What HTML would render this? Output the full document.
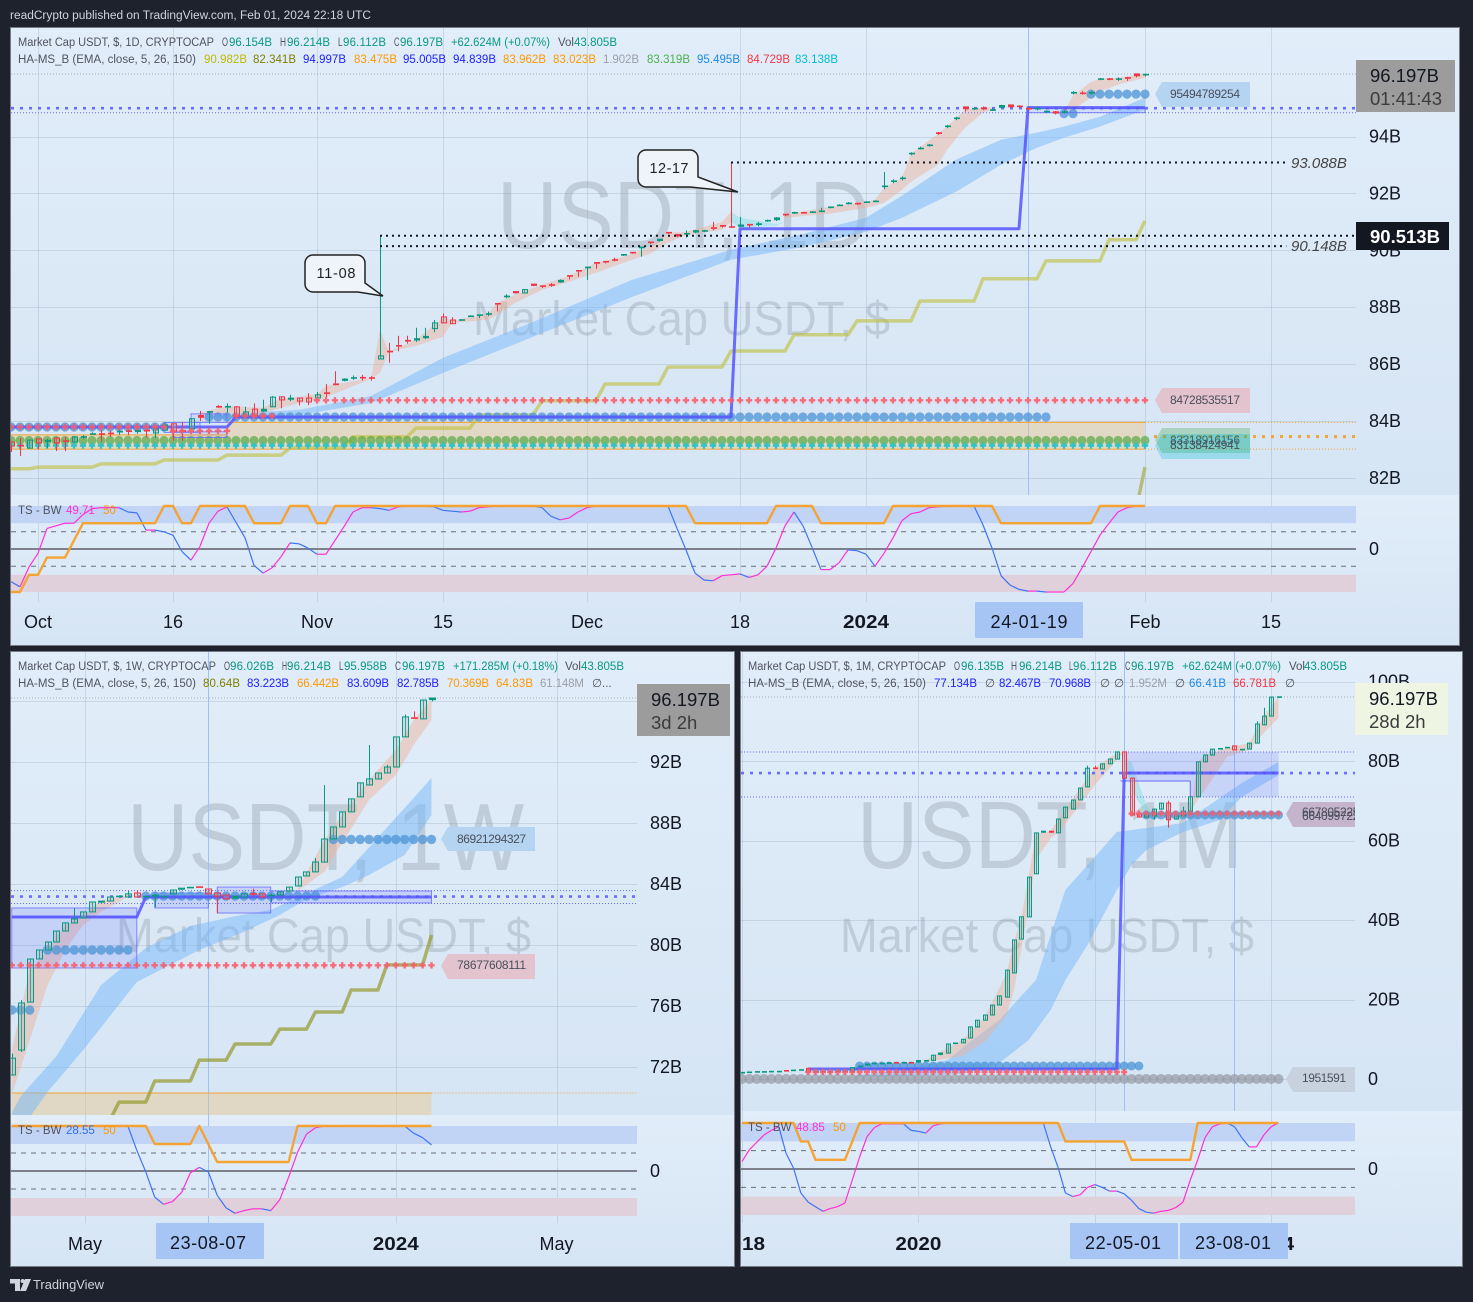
<!DOCTYPE html>
<html lang="en">
<head>
<meta charset="utf-8">
<title>USDT Market Cap multi-timeframe chart</title>
<style>
html,body{margin:0;padding:0;background:#1e222d;}
svg{display:block;font-family:"Liberation Sans",sans-serif;}
.lg{font-size:11.5px;}
.ax{font-size:18px;fill:#131722;}
.pill{font-size:12px;fill:#4a4f5a;}
</style>
</head>
<body>
<svg id="chart-root" xmlns="http://www.w3.org/2000/svg" width="1473" height="1302" viewBox="0 0 1473 1302">
<defs>
<linearGradient id="g-pane" x1="0" y1="0" x2="0" y2="1"><stop offset="0" stop-color="#e1edf9"/><stop offset="1" stop-color="#d6e5f4"/></linearGradient>
<clipPath id="clip-daily"><rect x="11" y="28" width="1345" height="467"/></clipPath>
<clipPath id="clip-daily-ts"><rect x="11" y="495" width="1345" height="107"/></clipPath>
<clipPath id="clip-weekly"><rect x="11" y="652" width="626" height="463"/></clipPath>
<clipPath id="clip-weekly-ts"><rect x="11" y="1115" width="626" height="108"/></clipPath>
<clipPath id="clip-weekly-axis"><rect x="11" y="1223" width="723" height="43"/></clipPath>
<clipPath id="clip-monthly"><rect x="741" y="652" width="614" height="459"/></clipPath>
<clipPath id="clip-monthly-ts"><rect x="741" y="1111" width="614" height="112"/></clipPath>
<clipPath id="clip-monthly-axis"><rect x="741" y="1223" width="721" height="43"/></clipPath>
<clipPath id="clip-monthly-pill"><rect x="1286" y="800" width="69" height="30"/></clipPath>
</defs>

<rect width="1473" height="1302" fill="#1e222d"/>
<text class="lg" x="10" y="19" fill="#d1d4dc" textLength="361" lengthAdjust="spacingAndGlyphs">readCrypto published on TradingView.com, Feb 01, 2024 22:18 UTC</text>

<g>
<rect x="11" y="28" width="1448" height="467" fill="url(#g-pane)"/>
<rect x="11" y="495" width="1448" height="150" fill="url(#g-pane)"/>
<rect x="10.5" y="27.5" width="1449" height="618" fill="none" stroke="#787b86"/>
</g>
<g>
<rect x="11" y="652" width="724" height="463" fill="url(#g-pane)"/>
<rect x="11" y="1115" width="724" height="151" fill="url(#g-pane)"/>
<rect x="10.5" y="651.5" width="724" height="615" fill="none" stroke="#787b86"/>
</g>
<g>
<rect x="741" y="652" width="721" height="459" fill="url(#g-pane)"/>
<rect x="741" y="1111" width="721" height="155" fill="url(#g-pane)"/>
<rect x="740.5" y="651.5" width="722" height="615" fill="none" stroke="#787b86"/>
</g>

<g fill="rgba(80,90,100,0.2)">
<text x="497" y="248" font-size="96" textLength="373" lengthAdjust="spacingAndGlyphs">USDT, 1D</text>
<text x="473" y="335" font-size="48" textLength="417" lengthAdjust="spacingAndGlyphs">Market Cap USDT, $</text>
<text x="127" y="870" font-size="96" textLength="397" lengthAdjust="spacingAndGlyphs">USDT, 1W</text>
<text x="116" y="952" font-size="48" textLength="415" lengthAdjust="spacingAndGlyphs">Market Cap USDT, $</text>
<text x="857" y="868" font-size="96" textLength="386" lengthAdjust="spacingAndGlyphs">USDT, 1M</text>
<text x="840" y="952" font-size="48" textLength="414" lengthAdjust="spacingAndGlyphs">Market Cap USDT, $</text>
</g>

<g id="layer-grid"></g>
<g id="layer-daily" clip-path="url(#clip-daily)"></g>
<g id="layer-daily-ts" clip-path="url(#clip-daily-ts)"></g>
<g id="layer-weekly" clip-path="url(#clip-weekly)"></g>
<g id="layer-weekly-ts" clip-path="url(#clip-weekly-ts)"></g>
<g id="layer-monthly" clip-path="url(#clip-monthly)"></g>
<g id="layer-monthly-ts" clip-path="url(#clip-monthly-ts)"></g>

<!-- Daily legend -->
<g class="lg">
<text x="18" y="46" fill="#50535e" textLength="196" lengthAdjust="spacingAndGlyphs">Market Cap USDT, $, 1D, CRYPTOCAP</text>
<text x="222" y="46" fill="#50535e" textLength="6" lengthAdjust="spacingAndGlyphs">O</text><text x="229" y="46" fill="#089981" textLength="43">96.154B</text>
<text x="280" y="46" fill="#50535e" textLength="6" lengthAdjust="spacingAndGlyphs">H</text><text x="287" y="46" fill="#089981" textLength="43">96.214B</text>
<text x="338" y="46" fill="#50535e" textLength="4.5" lengthAdjust="spacingAndGlyphs">L</text><text x="343" y="46" fill="#089981" textLength="43">96.112B</text>
<text x="394" y="46" fill="#50535e" textLength="5.5" lengthAdjust="spacingAndGlyphs">C</text><text x="400" y="46" fill="#089981" textLength="43">96.197B</text>
<text x="451" y="46" fill="#089981" textLength="99" lengthAdjust="spacingAndGlyphs">+62.624M (+0.07%)</text>
<text x="558" y="46" fill="#50535e">Vol</text><text x="574" y="46" fill="#089981" textLength="43">43.805B</text>
<text x="18" y="63" fill="#50535e" textLength="178" lengthAdjust="spacingAndGlyphs">HA-MS_B (EMA, close, 5, 26, 150)</text>
<text x="204" y="63" fill="#bcb900" textLength="43">90.982B</text>
<text x="253" y="63" fill="#808000" textLength="43">82.341B</text>
<text x="303" y="63" fill="#2020ff" textLength="43">94.997B</text>
<text x="354" y="63" fill="#ff9800" textLength="43">83.475B</text>
<text x="403" y="63" fill="#2020ff" textLength="43">95.005B</text>
<text x="453" y="63" fill="#2020ff" textLength="43">94.839B</text>
<text x="503" y="63" fill="#ff9800" textLength="43">83.962B</text>
<text x="553" y="63" fill="#ff9800" textLength="43">83.023B</text>
<text x="603" y="63" fill="#9b9ea8" textLength="36">1.902B</text>
<text x="647" y="63" fill="#4caf50" textLength="43">83.319B</text>
<text x="697" y="63" fill="#1e88e5" textLength="43">95.495B</text>
<text x="747" y="63" fill="#f23645" textLength="43">84.729B</text>
<text x="795" y="63" fill="#00bcd4" textLength="43">83.138B</text>
<text x="18" y="514" fill="#50535e">TS - BW</text>
<text x="66" y="514" fill="#ff2fd5">49.71</text><text x="103" y="514" fill="#ff9800">50</text>
</g>

<!-- Daily annotations -->
<g>
<path d="M313 255H357a8 8 0 0 1 8 8V283L383 296L358 292H313a8 8 0 0 1 -8 -8V263a8 8 0 0 1 8 -8Z" fill="#eff4fb" stroke="#222" stroke-width="1.5"/>
<text x="336" y="278" font-size="14.5" text-anchor="middle" fill="#222" textLength="39">11-08</text>
<path d="M646 150H690a8 8 0 0 1 8 8V177L738 192L690 187H646a8 8 0 0 1 -8 -8V158a8 8 0 0 1 8 -8Z" fill="#eff4fb" stroke="#222" stroke-width="1.5"/>
<text x="669" y="173" font-size="14.5" text-anchor="middle" fill="#222" textLength="39">12-17</text>
<text x="1291" y="168" font-size="15" font-style="italic" fill="#444">93.088B</text>
<text x="1291" y="251" font-size="15" font-style="italic" fill="#444">90.148B</text>
<polygon points="1155,94 1162,82 1250,82 1250,107 1162,107" fill="#b5d4f1"/>
<text class="pill" x="1170" y="98" textLength="70">95494789254</text>
<polygon points="1155,400 1162,388 1250,388 1250,413 1162,413" fill="#e3c3ce"/>
<text class="pill" x="1170" y="404" textLength="70">84728535517</text>
<polygon points="1155,440 1162,428 1250,428 1250,453 1162,453" fill="rgba(76,175,80,0.32)"/>
<text class="pill" x="1170" y="444" textLength="70">83318916156</text>
<polygon points="1155,446 1162,434 1250,434 1250,459 1162,459" fill="rgba(0,188,212,0.28)"/>
<text class="pill" x="1170" y="449" textLength="70">83138424941</text>
</g>

<!-- Weekly legend -->
<g class="lg">
<text x="18" y="670" fill="#50535e" textLength="198" lengthAdjust="spacingAndGlyphs">Market Cap USDT, $, 1W, CRYPTOCAP</text>
<text x="224" y="670" fill="#50535e" textLength="6" lengthAdjust="spacingAndGlyphs">O</text><text x="230" y="670" fill="#089981" textLength="44">96.026B</text>
<text x="282" y="670" fill="#50535e" textLength="5" lengthAdjust="spacingAndGlyphs">H</text><text x="287" y="670" fill="#089981" textLength="44">96.214B</text>
<text x="339" y="670" fill="#50535e" textLength="4.5" lengthAdjust="spacingAndGlyphs">L</text><text x="344" y="670" fill="#089981" textLength="43">95.958B</text>
<text x="395" y="670" fill="#50535e" textLength="6" lengthAdjust="spacingAndGlyphs">C</text><text x="402" y="670" fill="#089981" textLength="43">96.197B</text>
<text x="453" y="670" fill="#089981" textLength="105" lengthAdjust="spacingAndGlyphs">+171.285M (+0.18%)</text>
<text x="565" y="670" fill="#50535e">Vol</text><text x="581" y="670" fill="#089981" textLength="43">43.805B</text>
<text x="18" y="687" fill="#50535e" textLength="178" lengthAdjust="spacingAndGlyphs">HA-MS_B (EMA, close, 5, 26, 150)</text>
<text x="203" y="687" fill="#808000" textLength="37">80.64B</text>
<text x="247" y="687" fill="#2020ff" textLength="42">83.223B</text>
<text x="297" y="687" fill="#ff9800" textLength="42">66.442B</text>
<text x="347" y="687" fill="#2020ff" textLength="42">83.609B</text>
<text x="397" y="687" fill="#2020ff" textLength="42">82.785B</text>
<text x="447" y="687" fill="#ff9800" textLength="42">70.369B</text>
<text x="496" y="687" fill="#ff9800" textLength="37">64.83B</text>
<text x="540" y="687" fill="#9b9ea8" textLength="44">61.148M</text>
<text x="592" y="687" fill="#50535e">∅...</text>
<text x="18" y="1134" fill="#50535e">TS - BW</text>
<text x="66" y="1134" fill="#2f6ff0">28.55</text><text x="103" y="1134" fill="#ff9800">50</text>
</g>

<g>
<polygon points="441,839 448,827 535,827 535,851 448,851" fill="#b5d4f1"/>
<text class="pill" x="457" y="843" textLength="69">86921294327</text>
<polygon points="441,966 448,954 535,954 535,979 448,979" fill="#e3c3ce"/>
<text class="pill" x="457" y="969" textLength="69">78677608111</text>
</g>

<!-- Monthly legend -->
<g class="lg">
<text x="748" y="670" fill="#50535e" textLength="198" lengthAdjust="spacingAndGlyphs">Market Cap USDT, $, 1M, CRYPTOCAP</text>
<text x="954" y="670" fill="#50535e" textLength="6" lengthAdjust="spacingAndGlyphs">O</text><text x="961" y="670" fill="#089981" textLength="43">96.135B</text>
<text x="1011" y="670" fill="#50535e" textLength="6" lengthAdjust="spacingAndGlyphs">H</text><text x="1019" y="670" fill="#089981" textLength="43">96.214B</text>
<text x="1069" y="670" fill="#50535e" textLength="4" lengthAdjust="spacingAndGlyphs">L</text><text x="1073" y="670" fill="#089981" textLength="44">96.112B</text>
<text x="1125" y="670" fill="#50535e" textLength="5.5" lengthAdjust="spacingAndGlyphs">C</text><text x="1131" y="670" fill="#089981" textLength="43">96.197B</text>
<text x="1182" y="670" fill="#089981" textLength="99" lengthAdjust="spacingAndGlyphs">+62.624M (+0.07%)</text>
<text x="1289" y="670" fill="#50535e">Vol</text><text x="1304" y="670" fill="#089981" textLength="43">43.805B</text>
<text x="748" y="687" fill="#50535e" textLength="178" lengthAdjust="spacingAndGlyphs">HA-MS_B (EMA, close, 5, 26, 150)</text>
<text x="934" y="687" fill="#2020ff" textLength="43">77.134B</text>
<text x="985" y="687" fill="#50535e">∅</text>
<text x="999" y="687" fill="#2020ff" textLength="42">82.467B</text>
<text x="1049" y="687" fill="#2020ff" textLength="42">70.968B</text>
<text x="1100" y="687" fill="#50535e">∅</text><text x="1114" y="687" fill="#50535e">∅</text>
<text x="1129" y="687" fill="#9b9ea8" textLength="38">1.952M</text>
<text x="1175" y="687" fill="#50535e">∅</text>
<text x="1189" y="687" fill="#1e88e5" textLength="37">66.41B</text>
<text x="1233" y="687" fill="#f23645" textLength="43">66.781B</text>
<text x="1285" y="687" fill="#50535e">∅</text>
<text x="748" y="1131" fill="#50535e">TS - BW</text>
<text x="796" y="1131" fill="#ff2fd5">48.85</text><text x="833" y="1131" fill="#ff9800">50</text>
</g>

<g>
<polygon points="1286,814 1293,802 1355,802 1355,827 1293,827" fill="#c4b4cc"/>
<g clip-path="url(#clip-monthly-pill)">
<text class="pill" x="1302" y="816" textLength="70">66780522551</text>
<text class="pill" x="1302" y="820" textLength="70">66409972240</text>
</g>
<polygon points="1286,1079 1293,1067 1355,1067 1355,1092 1293,1092" fill="#c7d2de"/>
<text class="pill" x="1302" y="1082" textLength="44">1951591</text>
</g>

<g id="layer-tags-under"></g>

<!-- Price tags -->
<g>
<rect x="1356" y="60" width="99" height="52" fill="#9c9c9c"/>
<text x="1370" y="82" font-size="18.5" fill="#131722">96.197B</text>
<text x="1370" y="105" font-size="18.5" fill="#3b3b3b">01:41:43</text>
<rect x="1356" y="222" width="93" height="28" fill="#131722"/>
<text x="1370" y="243" font-size="18.5" font-weight="bold" fill="#ffffff">90.513B</text>
<rect x="637" y="684" width="93" height="52" fill="#9c9c9c"/>
<text x="651" y="706" font-size="18.5" fill="#131722">96.197B</text>
<text x="651" y="729" font-size="18.5" fill="#3b3b3b">3d 2h</text>
<rect x="1355" y="683" width="93" height="52" fill="#eff5e3"/>
<text x="1369" y="705" font-size="18.5" fill="#131722">96.197B</text>
<text x="1369" y="728" font-size="18.5" fill="#3b3b3b">28d 2h</text>
</g>

<!-- Date tags -->
<g>
<rect x="975" y="602" width="108" height="36" rx="1" fill="#a6c4f4"/>
<text x="1029" y="628" font-size="18" text-anchor="middle" fill="#131722" textLength="77">24-01-19</text>
<rect x="156" y="1223" width="108" height="36" rx="1" fill="#a6c4f4"/>
<text x="208" y="1249" font-size="18" text-anchor="middle" fill="#131722" textLength="76">23-08-07</text>
<rect x="1070" y="1223" width="108" height="36" rx="1" fill="#a6c4f4"/>
<text x="1123" y="1249" font-size="18" text-anchor="middle" fill="#131722" textLength="76">22-05-01</text>
<rect x="1180" y="1223" width="108" height="36" rx="1" fill="#a6c4f4"/>
<text x="1233" y="1249" font-size="18" text-anchor="middle" fill="#131722" textLength="76">23-08-01</text>
</g>

<g>
<path d="M10 1279H20V1291H15V1283.5H10ZM25 1279H31L26 1291H20Z" fill="#d1d4dc"/>
<circle cx="22.6" cy="1281" r="2" fill="#d1d4dc"/>
<text x="33" y="1289" font-size="13" fill="#d1d4dc" textLength="71" lengthAdjust="spacingAndGlyphs">TradingView</text>
</g>

<script>
/* ===== Daily chart data (bar 0 = Oct 1 2023; first bar = -3) ===== */
const dailyFirstBar = -3;
const dailyOpens = [83.26,83.15,83.05,83.37,83.26,83.40,83.31,83.26,83.42,83.52,
83.56,83.58,83.60,83.66,83.60,83.68,83.58,83.68,83.90,83.67,
83.72,84.20,84.28,84.52,84.46,84.50,84.18,84.42,84.32,84.50,
84.85,84.74,84.81,84.81,84.81,85.00,85.31,85.40,85.48,85.54,
85.53,86.18,86.46,86.66,86.84,86.82,86.90,87.25,87.66,87.55,
87.53,87.66,87.70,87.74,88.14,88.34,88.56,88.50,88.82,88.76,
88.80,88.86,89.12,89.30,89.36,89.58,89.62,89.68,89.82,89.94,
90.06,90.30,90.32,90.64,90.56,90.56,90.62,90.66,90.80,90.88,
90.84,90.82,90.92,90.88,91.02,91.05,91.28,91.30,91.34,91.34,
91.37,91.50,91.58,91.65,91.66,91.68,91.72,92.22,92.40,92.50,
93.38,93.58,93.68,94.14,94.34,94.62,95.05,94.97,95.02,94.91,
95.00,95.12,95.08,95.00,94.96,94.84,94.88,94.84,95.50,95.54,
95.50,96.00,96.04,96.00,96.08,96.21,96.154];
const dailyCloses = [83.12,83.11,83.33,83.23,83.33,83.23,83.28,83.44,83.46,83.56,
83.52,83.54,83.64,83.62,83.68,83.62,83.72,83.86,83.62,83.63,
84.08,84.10,84.34,84.46,84.52,84.18,84.32,84.18,84.42,84.84,
84.74,84.81,84.70,84.67,84.92,84.94,85.25,85.48,85.53,85.50,
85.49,86.29,86.40,86.62,86.78,86.90,86.98,87.45,87.45,87.42,
87.57,87.70,87.74,87.78,88.10,88.40,88.48,88.62,88.74,88.72,
88.76,88.95,89.08,89.26,89.42,89.52,89.58,89.64,89.86,89.90,
90.12,90.26,90.40,90.60,90.48,90.60,90.70,90.70,90.76,90.82,
90.80,90.90,90.88,90.94,91.06,91.15,91.22,91.34,91.32,91.36,
91.39,91.53,91.60,91.67,91.64,91.71,91.74,92.27,92.45,92.55,
93.42,93.60,93.71,94.08,94.38,94.66,94.95,95.00,94.95,94.95,
95.10,95.02,95.04,94.96,95.00,94.90,94.80,94.88,95.56,95.50,
95.56,96.04,96.00,96.04,96.02,96.11,96.197];
const dailyHighs = [83.30,83.40,83.35,83.37,83.37,83.43,83.44,83.47,83.50,83.60,
83.67,83.66,83.75,83.80,83.80,83.85,83.85,83.95,83.90,83.95,
84.08,84.35,84.34,84.56,84.62,84.52,84.50,84.62,84.75,84.88,
84.85,84.92,84.81,84.98,85.02,85.30,85.75,85.50,85.60,85.62,
85.58,90.52,86.75,87.00,87.00,87.28,87.28,87.55,87.78,87.65,
87.57,87.72,87.74,87.85,88.14,88.46,88.56,88.64,88.82,88.76,
88.85,88.98,89.12,89.30,89.42,89.58,89.62,89.74,89.86,89.94,
90.14,90.30,90.40,90.64,90.56,90.70,90.72,90.72,91.00,90.88,
93.09,91.18,90.92,91.00,91.08,91.17,91.28,91.36,91.36,91.38,
91.50,91.55,91.62,91.70,91.68,91.73,91.76,92.76,92.50,92.60,
93.45,93.65,93.74,94.16,94.42,94.70,95.05,95.02,95.06,95.00,
95.12,95.12,95.10,95.02,95.06,94.92,94.90,94.92,95.60,95.60,
95.60,96.06,96.06,96.08,96.10,96.22,96.214];
const dailyLows = [82.91,82.77,83.03,83.01,83.05,82.94,82.94,83.26,83.38,83.52,
83.27,83.44,83.52,83.50,83.55,83.42,83.40,83.68,83.30,83.30,
83.72,84.00,83.90,84.46,84.30,84.15,84.18,84.12,84.32,84.50,
84.45,84.70,84.55,84.56,84.81,84.84,85.25,85.40,85.45,85.42,
85.42,86.18,86.05,86.45,86.72,86.78,86.88,87.12,87.45,87.42,
87.53,87.66,87.62,87.68,87.85,88.32,88.48,88.50,88.74,88.68,
88.72,88.86,88.98,89.07,88.96,89.35,89.54,89.62,89.80,89.88,
89.78,90.22,90.30,90.58,90.46,90.45,90.60,90.64,90.70,90.80,
90.80,90.82,90.80,90.85,91.00,91.03,91.20,91.28,91.30,91.32,
91.35,91.48,91.56,91.62,91.60,91.66,91.70,92.15,92.36,92.46,
93.35,93.55,93.65,94.06,94.30,94.58,94.88,94.94,94.93,94.90,
95.00,95.00,95.02,94.93,94.92,94.82,94.78,94.82,95.48,95.48,
95.48,95.98,95.98,95.96,95.96,96.08,96.112];

const dailyPriceTicks = [82,84,86,88,90,92,94];
const dailyPriceLabels = ['82B','84B','86B','88B','90B','92B','94B'];
const dailyTimeBars = [0,15,31,45,61,78,92,123,137];
const dailyTimeLabels = ['Oct','16','Nov','15','Dec','18','2024','Feb','15'];
const dailyTimeBold = ['2024'];
const dailyMarkerBars = [110];

const dailySalmonABars = [18,21,25,27,29,31,32,37,38,39,42,45,46,50,51,53,56,59,62,65,68,70,72,76,77];
const dailySalmonATop = [84.28,84.53,84.46,84.81,84.84,84.95,85.23,85.51,87.20,86.43,86.85,87.63,87.52,87.77,88.15,88.44,88.79,89.10,89.56,89.77,90.12,90.62,90.65,91.00,91.36];
const dailySalmonABottom = [84.21,84.25,84.28,84.46,84.63,84.74,84.84,85.48,85.69,86.43,86.64,86.96,87.45,87.56,87.73,88.15,88.61,88.89,89.21,89.56,89.88,90.27,90.55,90.72,91.00];
const dailySalmonBBars = [83,88,92,93,94,96,97,100,101,103,105,106];
const dailySalmonBTop = [91.25,91.53,91.71,91.78,92.20,92.55,93.40,94.10,94.35,94.95,95.02,95.02];
const dailySalmonBBottom = [91.15,91.29,91.50,91.57,91.67,92.13,92.41,93.01,93.54,94.31,94.84,94.95];
const dailySalmonCBars = [114,115,117,118,120,123];
const dailySalmonCTop = [94.88,95.44,95.93,96.04,96.07,96.21];
const dailySalmonCBottom = [94.81,94.95,95.37,95.58,95.83,96.07];
const dailyTealBars = [77,78,82,83];
const dailyTealTop = [91.36,91.15,90.93,91.00];
const dailyTealBottom = [91.00,90.79,90.86,91.00];

const dailySlowBars = [19,25,29,37,45,55,66,77,85,92,96,102,107,111,114,118,123];
const dailySlowTop = [84.18,84.32,84.39,84.88,86.22,87.48,88.96,90.02,90.58,91.15,91.92,93.19,93.89,94.14,94.35,94.70,95.37];
const dailySlowBottom = [84.14,84.18,84.21,84.63,85.69,86.96,88.36,89.67,90.12,90.65,91.15,92.06,93.01,93.61,93.96,94.35,94.95];

const dailyOliveBars = [-3,-1,0,6,7,13,14,20,21,27,28,34,35,41,42,48,49,55,56,62,63,69,70,76,77,83,84,90,91,97,98,104,105,111,112,118,119,122,123];
const dailyOliveValues = [82.32,82.32,82.38,82.38,82.49,82.49,82.63,82.63,82.80,82.80,83.05,83.05,83.44,83.44,83.75,83.75,84.21,84.21,84.71,84.71,85.30,85.30,85.90,85.90,86.46,86.46,87.03,87.03,87.52,87.52,88.22,88.22,89.00,89.00,89.63,89.63,90.37,90.37,91.04];
const dailyOlive2Bars = [122,123];
const dailyOlive2Values = [80.87,82.38];
const dailyStepBars = [-3,21,22,77,78,109,110,123];
const dailyStepValues = [83.79,83.79,84.14,84.14,90.76,90.76,95.02,95.02];

const dailyDotStarts = [19,-3,114,117];
const dailyDotEnds = [112,14,115,123];
const dailyDotLevels = [84.14,83.79,94.81,95.495];
const dailyGreenDotStarts = [-3];
const dailyGreenDotEnds = [123];
const dailyGreenDotLevels = [83.319];
const dailyCrossStarts = [31,15,22,-3];
const dailyCrossEnds = [123,21,26,14];
const dailyCrossLevels = [84.729,83.65,84.18,83.79];
const dailyTealCrossStarts = [-3];
const dailyTealCrossEnds = [123];
const dailyTealCrossLevels = [83.138];

const dailyBandStarts = [-3,21];
const dailyBandEnds = [21,123];
const dailyBandTops = [83.51,83.95];
const dailyBandBottoms = [83.01,83.01];
const dailyBoxStarts = [14,15,17,110];
const dailyBoxEnds = [18,21,21,123];
const dailyBoxTops = [83.95,83.62,84.25,95.00];
const dailyBoxBottoms = [83.60,83.42,83.95,94.84];
const dailyThickBlueLevels = [95.00];
const dailyThinBlueLevels = [94.84];
const dailyGrayLevels = [96.20];
const dailyThinOrangeLevels = [83.95,83.01];
const dailyThickOrangeLevels = [83.45];
const dailyBlackValues = [90.513,90.148,93.088];
const dailyBlackStarts = [38,38,77];
const dailyBlackEnds = [146.4,138.7,138.7];

const dailyOsc = [-38,-44,-21,-5,24,27,30,30,40,47,48,48,48,43,42,22,22,20,16,-3,-13,3,30,44,49,31,13,-19,-28,-22,-9,7,6,1,-6,-6,10,26,43,48,48,47,45,49,50,
50,50,49,45,44,43,44,48,49,50,50,50,50,50,
48,38,34,36,43,48,50,50,50,50,50,50,50,50,50,24,-1,-28,-36,-37,-31,-30,-29,-33,-30,-20,1,27,43,27,2,-24,-24,-16,-1,-2,-6,-20,-5,13,33,41,43,48,49,50,50,50,50,28,1,-31,-42,-47,-49,-49,-50,-50,-50,-40,-22,-3,16,30,43,48,50,50];
const dailyOscSignal = [-50,-50,-30,-30,-10,-10,-10,10,30,30,30,30,30,30,30,30,30,50,50,30,30,50,50,50,50,50,50,30,30,30,30,50,50,50,30,30,
50,50,50,50,50,50,50,50,50,50,50,50,50,50,50,50,50,50,50,50,50,50,50,50,50,50,50,50,50,50,50,50,50,50,50,50,50,50,50,50,
30,30,30,30,30,30,30,30,30,50,50,50,50,50,30,30,30,30,30,30,30,30,50,50,50,50,50,50,50,50,50,50,50,50,30,30,30,30,30,30,30,30,30,30,30,50,50,50,50,50,50];
const dailyOscBands = [50,30,-30,-50];
const dailyOscDashed = [20,-20];

/* ===== Weekly chart data (bar 0 = ~Mar 2023) ===== */
const weeklyOpens = [71.49,73.13,76.27,79.09,79.68,80.20,80.92,81.45,81.77,82.17,82.76,82.89,83.15,83.15,83.41,83.15,83.15,83.18,83.35,83.61,83.74,83.83,83.67,83.41,83.28,83.02,83.15,83.38,83.35,83.22,83.28,83.54,83.87,84.52,84.79,85.44,86.95,87.73,88.72,89.70,90.48,90.88,91.27,91.66,93.63,94.90,94.81,96.026];
const weeklyCloses = [72.60,76.21,79.09,79.68,80.20,80.92,81.45,81.71,82.17,82.82,82.89,83.15,83.22,83.35,83.15,83.20,83.28,83.21,83.61,83.74,83.80,83.78,83.35,83.21,83.02,83.21,83.35,83.30,83.15,83.28,83.48,83.80,84.46,84.79,85.44,86.95,87.73,88.72,89.57,90.62,90.88,91.27,91.66,93.63,94.94,94.84,96.05,96.197];
const weeklyWickBars = [0,1,7,13,14,16,23,27,29,34,35,40,42,44,45,47];
const weeklyWickHighs = [72.90,76.40,82.43,83.56,83.60,83.35,83.41,83.70,83.35,85.70,90.48,93.10,91.80,95.10,95.30,96.214];
const weeklyWickLows = [71.49,73.00,81.45,83.10,83.15,82.49,82.10,83.20,82.82,84.79,85.44,90.48,91.27,93.63,94.84,95.958];

const weeklyPriceTicks = [72,76,80,84,88,92,96];
const weeklyPriceLabels = ['72B','76B','80B','84B','88B','92B','96B'];
const weeklyTimeBars = [8.2,43,61];
const weeklyTimeLabels = ['May','2024','May'];
const weeklyTimeBold = ['2024'];
const weeklyMarkerBars = [22];

const weeklySalmonABars = [0,2,4,6,8,10,13];
const weeklySalmonATop = [73.13,78.37,79.68,81.31,81.97,82.89,83.28];
const weeklySalmonABottom = [70.18,73.78,77.38,79.68,81.31,82.17,83.15];
const weeklySalmonBBars = [32,35,37,40,43,45,47];
const weeklySalmonBTop = [83.67,86.88,88.52,90.81,92.78,94.74,96.05];
const weeklySalmonBBottom = [83.54,84.79,86.69,89.50,91.14,93.10,94.74];
const weeklySlowTopBars = [0,1,5,10,15,20,25,29,37,44,47];
const weeklySlowTopValues = [69.00,70.11,72.73,77.38,79.81,81.25,81.90,82.30,84.46,88.98,90.94];
const weeklySlowBottomBars = [1,4,8,14,21,26,30,33,37,40,44,47];
const weeklySlowBottomValues = [67.89,70.38,73.13,77.58,79.68,80.86,81.97,83.02,83.80,84.59,85.90,88.52];

const weeklyOliveBars = [11,12,15,16,20,21,24,25,29,30,33,34,37,38,41,42,46,47];
const weeklyOliveValues = [68.54,69.72,69.72,71.10,71.10,72.47,72.47,73.52,73.52,74.50,74.50,75.62,75.62,77.06,77.06,78.70,78.70,80.66];
const weeklyStepBars = [0,14,15,47];
const weeklyStepValues = [81.84,81.84,83.15,83.15];

const weeklyDotStarts = [0,4,15,36];
const weeklyDotEnds = [2,13,34,47];
const weeklyDotLevels = [75.75,79.68,83.21,86.921];
const weeklyCrossStarts = [0];
const weeklyCrossEnds = [47];
const weeklyCrossLevels = [78.678];

const weeklyBandStarts = [0];
const weeklyBandEnds = [47];
const weeklyBandTops = [70.31];
const weeklyBandBottoms = [68.5];
const weeklyBoxStarts = [0,0,16,23,29];
const weeklyBoxEnds = [14,14,22,29,47];
const weeklyBoxTops = [81.84,82.43,83.41,83.80,83.54];
const weeklyBoxBottoms = [78.50,81.84,82.43,82.10,82.76];
const weeklyThickBlueLevels = [83.18];
const weeklyThinBlueLevels = [83.57,82.72];
const weeklyGrayLevels = [96.18];
const weeklyThinOrangeLevels = [70.31];

const weeklyOsc = [50,50,50,50,50,50,50,50,50,50,50,50,50,50,23,-1,-29,-37,-34,-24,-2,4,-1,-27,-41,-47,-44,-42,-42,-44,-32,-7,21,41,48,50,50,50,50,50,50,50,50,50,50,42,37,29];
const weeklyOscSignal = [50,50,50,50,50,50,50,50,50,50,50,50,50,50,50,50,30,30,30,30,30,50,30,10,10,10,10,10,10,10,10,10,50,50,50,50,50,50,50,50,50,50,50,50,50,50,50,50];
const weeklyOscBands = [50,30,-30,-50];
const weeklyOscDashed = [20,-20];

/* ===== Monthly chart data (bar 0 = Jan 2018) ===== */
const monthlyOpens = [1.3,1.7,1.8,1.9,1.9,2.0,2.2,2.0,2.3,2.7,
1.8,1.9,1.9,1.9,2.0,1.8,2.9,3.3,3.8,4.0,
4.0,4.2,4.1,4.2,4.1,4.6,4.7,6.0,6.5,8.8,
9.1,10.3,13.1,14.8,16.1,18.6,20.6,26.7,35.2,40.8,
51.6,61.9,62.4,61.9,65.7,67.9,70.2,73.5,78.3,78.0,
79.3,80.5,82.3,75.7,66.7,65.9,66.2,67.9,69.4,65.4,
66.2,67.4,71.0,79.8,81.5,83.0,83.2,83.8,82.8,83.0,
84.5,89.1,91.3,96.135];
const monthlyCloses = [1.7,1.8,1.9,1.9,2.0,2.0,2.0,2.3,2.4,1.8,
1.9,1.9,1.9,2.0,2.0,2.9,3.3,3.8,4.0,4.0,
4.1,4.1,4.2,4.1,4.7,4.7,6.0,6.6,8.8,9.1,
10.0,13.1,14.8,16.1,18.6,20.9,27.4,35.0,40.8,50.8,
61.9,62.4,61.9,65.4,68.4,70.2,73.2,78.2,78.0,79.3,
80.5,82.3,75.7,66.4,65.9,66.7,67.9,69.4,65.2,66.2,
67.4,71.0,79.8,81.5,83.0,83.2,83.5,82.8,83.0,84.5,
89.3,91.3,96.1,96.197];
const monthlyWickBars = [47,48,56,58,60,70,71,73];
const monthlyWickHighs = [78.8,78.8,68.0,70.0,68.5,90.0,93.4,96.214];
const monthlyWickLows = [73.5,78.0,65.2,63.2,66.0,84.5,89.0,96.112];

const monthlyPriceTicks = [0,20,40,60,80,100];
const monthlyPriceLabels = ['0','20B','40B','60B','80B','100B'];
const monthlyTimeBars = [0,24,48,72];
const monthlyTimeLabels = ['2018','2020','2022','2024'];
const monthlyTimeBold = ['2018','2020','2022','2024'];
const monthlyMarkerBars = [52,67];

const monthlySalmonABars = [25,30,33,36,37,38,40,42,43,46,48,51,52];
const monthlySalmonATop = [4.78,9.81,15.35,26.67,34.47,40.51,61.64,62.40,65.16,73.22,78.25,82.02,82.27];
const monthlySalmonABottom = [4.28,5.79,9.31,16.10,22.39,32.46,55.10,60.64,61.89,68.94,73.97,80.26,82.27];
const monthlySalmonBBars = [61,62,63,66,69,71,73];
const monthlySalmonBTop = [67.18,79.76,81.52,83.28,84.54,91.33,96.11];
const monthlySalmonBBottom = [67.18,70.20,72.71,81.02,82.78,87.05,90.83];
const monthlyTealBars = [52,53,55,56];
const monthlyTealTop = [80.76,79.76,68.94,66.40];
const monthlyTealBottom = [80.76,72.46,66.67,66.40];
const monthlySlowTopBars = [16,22,28,31,35,40,44,48,51,55,60,64,68,73];
const monthlySlowTopValues = [1.00,2.26,4.78,9.31,14.84,24.91,47.55,55.86,62.15,63.15,64.41,69.44,74.47,79.76];
const monthlySlowBottomBars = [15,22,30,35,39,42,44,47,51,53,55,60,65,68,73];
const monthlySlowBottomValues = [0.50,0.75,1.26,4.03,9.81,17.36,24.91,33.71,47.55,53.84,57.62,62.15,65.16,70.95,76.49];

const monthlyStepBars = [9,51,52,73];
const monthlyStepValues = [2.52,2.52,76.97,76.97];
const monthlyRangeLineBars = [51.5,61,61];
const monthlyRangeLineValues = [74.98,74.98,70.95];

const monthlyDotStarts = [16,55];
const monthlyDotEnds = [54,73];
const monthlyDotLevels = [3.27,66.41];
const monthlyGrayDotStarts = [0];
const monthlyGrayDotEnds = [73.5];
const monthlyGrayDotLevels = [0.002];
const monthlyCrossStarts = [9,53];
const monthlyCrossEnds = [52,73];
const monthlyCrossLevels = [1.76,66.781];

const monthlyBoxStarts = [52,61];
const monthlyBoxEnds = [73,73];
const monthlyBoxTops = [82.27,74.98];
const monthlyBoxBottoms = [74.98,70.95];
const monthlyThickBlueLevels = [76.97];
const monthlyThinBlueLevels = [82.27,70.95];
const monthlyGrayLevels = [96.10];

const monthlyOsc = [8,21,29,37,42,46,17,1,-26,-36,-41,-46,-43,-41,-37,-12,13,35,45,49,49,49,49,42,41,39,47,49,50,50,50,50,50,50,50,50,50,50,50,50,50,50,24,2,-26,-30,-28,-20,-17,-20,-24,-24,-27,-34,-43,-47,-48,-46,-45,-42,-36,-12,10,34,46,49,50,46,34,24,24,37,46,50];
const monthlyOscSignal = [50,50,50,50,50,50,50,50,30,30,10,10,10,10,10,30,50,50,50,50,50,50,50,50,50,50,50,50,50,50,50,50,50,50,50,50,50,50,50,50,50,50,50,50,30,30,30,30,30,30,30,30,30,10,10,10,10,10,10,10,10,10,50,50,50,50,50,50,50,50,50,50,50,50];
const monthlyOscBands = [50,30,-30,-50];
const monthlyOscDashed = [20,-20];

/* ===== Axis functions ===== */
function dailyX(bar){ return 38 + 9*bar; }
function dailyY(v){ return 421 - (v-84)*28.44; }
function dailyOscY(v){ return 549 - v*0.86; }
function weeklyX(bar){ return 11.8 + 8.93*bar; }
function weeklyY(v){ return 884 - (v-84)*15.27; }
function weeklyOscY(v){ return 1171 - v*0.9; }
function monthlyX(bar){ return 742 + 7.35*bar; }
function monthlyY(v){ return 1079 - v*3.975; }
function monthlyOscY(v){ return 1169 - v*0.92; }

const NS = 'http://www.w3.org/2000/svg';
const COLOR_UP = '#089981';
const COLOR_DOWN = '#f23645';

function node(tag, attrs, parent, name){
  const el = document.createElementNS(NS, tag);
  for (const k in attrs) el.setAttribute(k, attrs[k]);
  
  
  parent.appendChild(el);
  return el;
}
function polyPoints(bars, vals, x, y){
  return bars.map(function(b,i){ return x(b).toFixed(1)+','+y(vals[i]).toFixed(1); });
}
function drawRibbon(g, name, fill, topBars, topVals, botBars, botVals, x, y){
  const pts = polyPoints(topBars, topVals, x, y).concat(polyPoints(botBars, botVals, x, y).reverse());
  node('polygon', {points: pts.join(' '), fill: fill}, g, name);
}
function drawLine(g, name, bars, vals, x, y, stroke, width){
  node('polyline', {points: polyPoints(bars, vals, x, y).join(' '), fill:'none', stroke:stroke, 'stroke-width':width, 'stroke-linejoin':'round'}, g, name);
}
function drawDots(g, name, starts, ends, levels, x, y, r, fill){
  levels.forEach(function(level, k){
    for (let b = starts[k]; b <= ends[k]; b++){
      node('circle', {cx:x(b).toFixed(1), cy:y(level).toFixed(1), r:r, fill:fill}, g, name);
    }
  });
}
function drawCrosses(g, name, starts, ends, levels, x, y, size, stroke){
  levels.forEach(function(level, k){
    for (let b = starts[k]; b <= ends[k]; b++){
      const cx = x(b), cy = y(level);
      node('path', {d:'M'+(cx-size)+' '+cy+'H'+(cx+size)+'M'+cx+' '+(cy-size)+'V'+(cy+size), stroke:stroke, 'stroke-width':2.4, fill:'none'}, g, name);
    }
  });
}
function drawCandles(g, opens, closes, highs, lows, first, x, y, bodyW){
  opens.forEach(function(o, i){
    const c = closes[i], up = c >= o, col = up ? COLOR_UP : COLOR_DOWN;
    const cx = Math.round(x(i+first)) + 0.5;
    const top = y(Math.max(o,c)), bot = y(Math.min(o,c));
    const left = Math.round(cx - bodyW/2);
    node('line', {x1:cx, x2:cx, y1:y(highs[i]).toFixed(1), y2:y(lows[i]).toFixed(1), stroke:col, 'stroke-width':1}, g, 'candle-wick');
    const h = bot - top;
    if (h < 3){
      node('rect', {x:left, y:(top-0.3).toFixed(1), width:bodyW, height:Math.max(h,1.6).toFixed(1), fill:col}, g, 'candle-body');
    } else {
      node('rect', {x:left+0.5, y:top.toFixed(1), width:bodyW-1, height:h.toFixed(1), fill:'rgba(175,178,182,0.32)', stroke:col, 'stroke-width':1}, g, 'candle-body');
    }
  });
}
function sparseWicks(opens, closes, bars, hi, lo){
  const highs = opens.map(function(o,i){ return Math.max(o, closes[i]); });
  const lows = opens.map(function(o,i){ return Math.min(o, closes[i]); });
  bars.forEach(function(b,k){ highs[b] = hi[k]; lows[b] = lo[k]; });
  return {highs:highs, lows:lows};
}
function drawBands(g, starts, ends, tops, bots, x, y){
  tops.forEach(function(t,k){
    const x1 = x(starts[k]), x2 = x(ends[k]), y1 = y(t), y2 = y(bots[k]);
    node('rect', {x:x1, y:y1, width:x2-x1, height:y2-y1, fill:'rgba(240,195,125,0.40)'}, g, 'orange-band');
    node('path', {d:'M'+x1+' '+y1+'H'+x2+'M'+x1+' '+y2+'H'+x2, stroke:'#f5a332', 'stroke-width':1, fill:'none'}, g, 'orange-band-edge');
  });
}
function drawBoxes(g, starts, ends, tops, bots, x, y, fill, stroke){
  tops.forEach(function(t,k){
    const x1 = x(starts[k]), x2 = x(ends[k]), y1 = y(t), y2 = y(bots[k]);
    node('rect', {x:x1, y:y1, width:x2-x1, height:y2-y1, fill:fill, stroke:stroke, 'stroke-width':0.8}, g, 'range-box');
  });
}
function drawLevels(g, name, levels, y, x1, x2, stroke, width, dash){
  levels.forEach(function(v){
    node('line', {x1:x1, x2:x2, y1:y(v), y2:y(v), stroke:stroke, 'stroke-width':width, 'stroke-dasharray':dash}, g, name);
  });
}
function drawGrid(g, priceTicks, y, timeBars, x, markers, left, right, top, paneBottom, axisTop){
  priceTicks.forEach(function(v){
    node('line', {x1:left, x2:right, y1:Math.round(y(v))+0.5, y2:Math.round(y(v))+0.5, stroke:'rgba(100,120,140,0.18)'}, g, 'horizontal-gridline');
  });
  timeBars.forEach(function(b){
    node('line', {x1:Math.round(x(b))+0.5, x2:Math.round(x(b))+0.5, y1:top, y2:axisTop, stroke:'rgba(100,120,140,0.18)'}, g, 'vertical-gridline');
  });
  markers.forEach(function(b){
    node('line', {x1:Math.round(x(b))+0.5, x2:Math.round(x(b))+0.5, y1:top, y2:paneBottom, stroke:'#9fbff5'}, g, 'date-marker-line');
  });
}
function drawPriceLabels(g, ticks, labels, y, ax){
  ticks.forEach(function(v,i){
    const t = node('text', {x:ax, y:(y(v)+6).toFixed(1), class:'ax'}, g, 'price-axis-label');
    t.textContent = labels[i];
  });
}
function drawTimeLabels(g, bars, labels, bold, x, baseY, clip){
  bars.forEach(function(b,i){
    const t = node('text', {x:x(b).toFixed(1), y:baseY, class:'ax', 'text-anchor':'middle'}, g, 'time-axis-label');
    if (bold.indexOf(labels[i]) >= 0){
      t.setAttribute('font-weight','bold');
      t.setAttribute('textLength','46');
      t.setAttribute('lengthAdjust','spacingAndGlyphs');
    }
    if (clip) t.setAttribute('clip-path', clip);
    t.textContent = labels[i];
  });
}
function drawOscillator(g, osc, signal, bands, dashed, first, x, y, left, right){
  node('rect', {x:left, y:y(bands[0]), width:right-left, height:y(bands[1])-y(bands[0]), fill:'#c1d4f6'}, g, 'oscillator-overbought-band');
  node('rect', {x:left, y:y(bands[2]), width:right-left, height:y(bands[3])-y(bands[2]), fill:'#dfd0db'}, g, 'oscillator-oversold-band');
  dashed.forEach(function(v){
    node('line', {x1:left, x2:right, y1:y(v), y2:y(v), stroke:'#6b6f7a', 'stroke-dasharray':'5 5'}, g, 'oscillator-dashed-level');
  });
  node('line', {x1:left, x2:right, y1:y(0), y2:y(0), stroke:'#7d818c', 'stroke-width':2}, g, 'oscillator-zero-line');
  for (let i = 1; i < osc.length; i++){
    const col = osc[i] >= osc[i-1] ? '#ff2fd5' : '#3f74f5';
    node('line', {x1:x(i-1+first).toFixed(1), x2:x(i+first).toFixed(1), y1:y(osc[i-1]).toFixed(1), y2:y(osc[i]).toFixed(1), stroke:col, 'stroke-width':1.2}, g, 'oscillator-segment');
  }
  const pts = signal.map(function(v,i){ return x(i+first).toFixed(1)+','+y(v).toFixed(1); });
  node('polyline', {points:pts.join(' '), fill:'none', stroke:'rgba(245,160,40,0.95)', 'stroke-width':2.4, 'stroke-linejoin':'round'}, g, 'oscillator-signal-line');
}

const SALMON = 'rgba(238,175,150,0.45)';
const SLOW = 'rgba(118,184,250,0.5)';
const TEAL = 'rgba(110,222,225,0.38)';
const DOT = 'rgba(80,150,215,0.78)';
const CROSS = 'rgba(250,90,105,0.88)';
const STEP = 'rgba(85,85,255,0.85)';
const BLUE_DOT = '#6a6dff';
const gridLayer = document.getElementById('layer-grid');
const labelLayer = document.getElementById('layer-tags-under');

/* ---- Daily ---- */
(function(){
  const g = document.getElementById('layer-daily');
  const x = dailyX, y = dailyY;
  drawGrid(gridLayer, dailyPriceTicks, y, dailyTimeBars, x, dailyMarkerBars, 11, 1356, 28, 495, 602);
  drawLevels(g, 'gray-level', dailyGrayLevels, y, 11, 1356, '#a7adb6', 1, '1 2');
  drawBands(g, dailyBandStarts, dailyBandEnds, dailyBandTops, dailyBandBottoms, x, y);
  drawLevels(g, 'thin-orange-level', dailyThinOrangeLevels, y, x(123), 1356, '#f5a332', 1, '1 2');
  node('line', {x1:x(124), x2:1356, y1:y(dailyThickOrangeLevels[0]), y2:y(dailyThickOrangeLevels[0]), stroke:'#f5a332', 'stroke-width':3, 'stroke-dasharray':'3 6'}, g, 'thick-orange-level');
  drawRibbon(g, 'slow-ema-ribbon', SLOW, dailySlowBars, dailySlowTop, dailySlowBars, dailySlowBottom, x, y);
  drawRibbon(g, 'fast-ema-ribbon', SALMON, dailySalmonABars, dailySalmonATop, dailySalmonABars, dailySalmonABottom, x, y);
  drawRibbon(g, 'fast-ema-ribbon', SALMON, dailySalmonBBars, dailySalmonBTop, dailySalmonBBars, dailySalmonBBottom, x, y);
  drawRibbon(g, 'fast-ema-ribbon', SALMON, dailySalmonCBars, dailySalmonCTop, dailySalmonCBars, dailySalmonCBottom, x, y);
  drawRibbon(g, 'bear-ema-ribbon', TEAL, dailyTealBars, dailyTealTop, dailyTealBars, dailyTealBottom, x, y);
  drawLine(g, 'trend-step-line', dailyOliveBars, dailyOliveValues, x, y, 'rgba(190,192,60,0.62)', 3.5);
  drawLine(g, 'trend-tail-line', dailyOlive2Bars, dailyOlive2Values, x, y, '#b6bd7c', 3.5);
  drawDots(g, 'green-dot', dailyGreenDotStarts, dailyGreenDotEnds, dailyGreenDotLevels, x, y, 4.5, 'rgba(90,170,70,0.72)');
  drawCrosses(g, 'teal-cross', dailyTealCrossStarts, dailyTealCrossEnds, dailyTealCrossLevels, x, y, 3.2, '#2fc4cc');
  drawDots(g, 'blue-dot', dailyDotStarts, dailyDotEnds, dailyDotLevels, x, y, 4.6, DOT);
  drawBoxes(g, dailyBoxStarts, dailyBoxEnds, dailyBoxTops, dailyBoxBottoms, x, y, 'rgba(90,100,255,0.1)', '#6a6dff');
  drawLevels(g, 'blue-thin-level', dailyThinBlueLevels, y, 11, 1356, BLUE_DOT, 1, '1 2');
  drawLevels(g, 'blue-thick-level', dailyThickBlueLevels, y, 11, 1356, BLUE_DOT, 2.6, '3 6');
  drawLine(g, 'blue-step-line', dailyStepBars, dailyStepValues, x, y, STEP, 3);
  drawCandles(g, dailyOpens, dailyCloses, dailyHighs, dailyLows, dailyFirstBar, x, y, 6);
  drawCrosses(g, 'red-cross', dailyCrossStarts, dailyCrossEnds, dailyCrossLevels, x, y, 3.2, CROSS);
  dailyBlackValues.forEach(function(v,k){
    node('line', {x1:x(dailyBlackStarts[k]), x2:x(dailyBlackEnds[k]), y1:y(v), y2:y(v), stroke:'#131722', 'stroke-width':2, 'stroke-dasharray':'2 4'}, g, 'high-low-level');
  });
  drawOscillator(document.getElementById('layer-daily-ts'), dailyOsc, dailyOscSignal, dailyOscBands, dailyOscDashed, dailyFirstBar, x, dailyOscY, 11, 1356);
  drawPriceLabels(labelLayer, dailyPriceTicks, dailyPriceLabels, y, 1369);
  drawPriceLabels(labelLayer, [0], ['0'], dailyOscY, 1369);
  drawTimeLabels(labelLayer, dailyTimeBars, dailyTimeLabels, dailyTimeBold, x, 628, null);
})();

/* ---- Weekly ---- */
(function(){
  const g = document.getElementById('layer-weekly');
  const x = weeklyX, y = weeklyY;
  drawGrid(gridLayer, weeklyPriceTicks, y, weeklyTimeBars, x, weeklyMarkerBars, 11, 637, 652, 1223, 1223);
  drawLevels(g, 'gray-level', weeklyGrayLevels, y, 11, 637, '#a7adb6', 1, '1 2');
  drawBands(g, weeklyBandStarts, weeklyBandEnds, weeklyBandTops, weeklyBandBottoms, x, y);
  drawLevels(g, 'thin-orange-level', weeklyThinOrangeLevels, y, x(47), 637, '#f5a332', 1, '1 2');
  drawRibbon(g, 'slow-ema-ribbon', SLOW, weeklySlowTopBars, weeklySlowTopValues, weeklySlowBottomBars, weeklySlowBottomValues, x, y);
  drawRibbon(g, 'fast-ema-ribbon', SALMON, weeklySalmonABars, weeklySalmonATop, weeklySalmonABars, weeklySalmonABottom, x, y);
  drawRibbon(g, 'fast-ema-ribbon', SALMON, weeklySalmonBBars, weeklySalmonBTop, weeklySalmonBBars, weeklySalmonBBottom, x, y);
  drawBoxes(g, weeklyBoxStarts, weeklyBoxEnds, weeklyBoxTops, weeklyBoxBottoms, x, y, 'rgba(90,100,255,0.17)', '#6a6dff');
  drawLine(g, 'trend-step-line', weeklyOliveBars, weeklyOliveValues, x, y, 'rgba(150,155,50,0.72)', 3.5);
  drawLevels(g, 'blue-thin-level', weeklyThinBlueLevels, y, 11, 637, BLUE_DOT, 1, '1 2');
  drawLevels(g, 'blue-thick-level', weeklyThickBlueLevels, y, 11, 637, BLUE_DOT, 2.6, '3 6');
  drawDots(g, 'blue-dot', weeklyDotStarts, weeklyDotEnds, weeklyDotLevels, x, y, 4.7, DOT);
  drawLine(g, 'blue-step-line', weeklyStepBars, weeklyStepValues, x, y, STEP, 3);
  const w = sparseWicks(weeklyOpens, weeklyCloses, weeklyWickBars, weeklyWickHighs, weeklyWickLows);
  drawCandles(g, weeklyOpens, weeklyCloses, w.highs, w.lows, 0, x, y, 7);
  drawCrosses(g, 'red-cross', weeklyCrossStarts, weeklyCrossEnds, weeklyCrossLevels, x, y, 3.2, CROSS);
  drawOscillator(document.getElementById('layer-weekly-ts'), weeklyOsc, weeklyOscSignal, weeklyOscBands, weeklyOscDashed, 0, x, weeklyOscY, 11, 637);
  drawPriceLabels(labelLayer, weeklyPriceTicks, weeklyPriceLabels, y, 650);
  drawPriceLabels(labelLayer, [0], ['0'], weeklyOscY, 650);
  drawTimeLabels(labelLayer, weeklyTimeBars, weeklyTimeLabels, weeklyTimeBold, x, 1250, null);
})();

/* ---- Monthly ---- */
(function(){
  const g = document.getElementById('layer-monthly');
  const x = monthlyX, y = monthlyY;
  drawGrid(gridLayer, monthlyPriceTicks, y, monthlyTimeBars, x, monthlyMarkerBars, 741, 1355, 652, 1111, 1223);
  drawLevels(g, 'gray-level', monthlyGrayLevels, y, 741, 1355, '#a7adb6', 1, '1 2');
  drawRibbon(g, 'slow-ema-ribbon', SLOW, monthlySlowTopBars, monthlySlowTopValues, monthlySlowBottomBars, monthlySlowBottomValues, x, y);
  drawRibbon(g, 'fast-ema-ribbon', SALMON, monthlySalmonABars, monthlySalmonATop, monthlySalmonABars, monthlySalmonABottom, x, y);
  drawRibbon(g, 'fast-ema-ribbon', SALMON, monthlySalmonBBars, monthlySalmonBTop, monthlySalmonBBars, monthlySalmonBBottom, x, y);
  drawRibbon(g, 'bear-ema-ribbon', TEAL, monthlyTealBars, monthlyTealTop, monthlyTealBars, monthlyTealBottom, x, y);
  drawBoxes(g, monthlyBoxStarts, monthlyBoxEnds, monthlyBoxTops, monthlyBoxBottoms, x, y, 'rgba(90,100,255,0.17)', 'none');
  drawLine(g, 'range-outline', monthlyRangeLineBars, monthlyRangeLineValues, x, y, '#6a6dff', 1);
  drawLevels(g, 'blue-thin-level', monthlyThinBlueLevels, y, 741, 1355, BLUE_DOT, 1, '1 2');
  drawLevels(g, 'blue-thick-level', monthlyThickBlueLevels, y, 741, 1355, BLUE_DOT, 2.6, '3 6');
  drawDots(g, 'gray-dot', monthlyGrayDotStarts, monthlyGrayDotEnds, monthlyGrayDotLevels, x, y, 5, 'rgba(150,155,165,0.72)');
  drawDots(g, 'blue-dot', monthlyDotStarts, monthlyDotEnds, monthlyDotLevels, x, y, 4.5, DOT);
  drawLine(g, 'blue-step-line', monthlyStepBars, monthlyStepValues, x, y, STEP, 3);
  const w = sparseWicks(monthlyOpens, monthlyCloses, monthlyWickBars, monthlyWickHighs, monthlyWickLows);
  drawCandles(g, monthlyOpens, monthlyCloses, w.highs, w.lows, 0, x, y, 5);
  drawCrosses(g, 'red-cross', monthlyCrossStarts, monthlyCrossEnds, monthlyCrossLevels, x, y, 3, CROSS);
  drawOscillator(document.getElementById('layer-monthly-ts'), monthlyOsc, monthlyOscSignal, monthlyOscBands, monthlyOscDashed, 0, x, monthlyOscY, 741, 1355);
  drawPriceLabels(labelLayer, monthlyPriceTicks, monthlyPriceLabels, y, 1368);
  drawPriceLabels(labelLayer, [0], ['0'], monthlyOscY, 1368);
  drawTimeLabels(labelLayer, monthlyTimeBars, monthlyTimeLabels, monthlyTimeBold, x, 1250, 'url(#clip-monthly-axis)');
})();
</script>
</svg>
</body>
</html>
